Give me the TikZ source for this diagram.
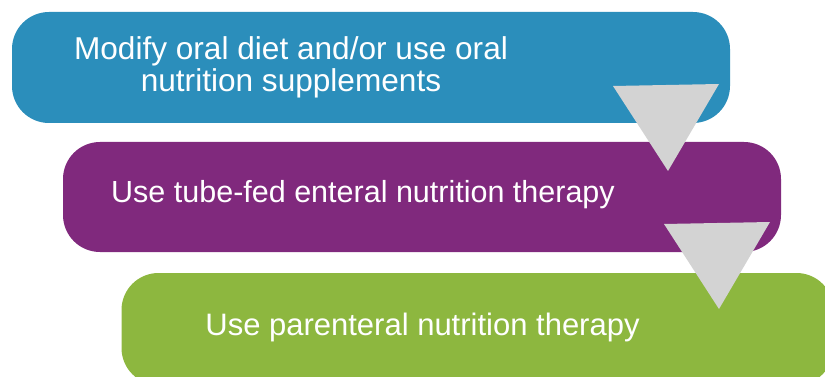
\documentclass[tikz,border=0pt]{standalone}
\usepackage{fontspec}
\setmainfont{Liberation Sans}
\definecolor{boxblue}{RGB}{43,142,187}
\definecolor{boxpurple}{RGB}{128,41,125}
\definecolor{boxgreen}{RGB}{141,183,63}
\definecolor{arrowgray}{RGB}{211,211,211}
\tikzset{
  stagebox/.style={rectangle, rounded corners=37pt, inner sep=0pt, draw=none},
  stagetext/.style={text=white, font=\fontsize{31}{33}\selectfont, inner sep=0pt, anchor=base},
  downarrow/.style={fill=arrowgray, draw=none}
}
\begin{document}
\begin{tikzpicture}[x=1pt,y=-1pt]
\useasboundingbox (0,0) rectangle (825,377);
\clip (0,0) rectangle (825,377);
\node[stagebox, fill=boxblue, minimum width=718pt, minimum height=111pt] (b1) at (371,67.5) {};
\node[stagebox, fill=boxpurple, minimum width=718pt, minimum height=110pt] (b2) at (422,197) {};
\node[stagebox, fill=boxgreen, minimum width=712pt, minimum height=112pt] (b3) at (477.5,329) {};
\node[stagetext, font=\fontsize{31.6}{33}\selectfont] (t1a) at (291,60) {Modify oral diet and/or use oral};
\node[stagetext, font=\fontsize{31.6}{33}\selectfont] (t1b) at (291,92) {nutrition supplements};
\node[stagetext, font=\fontsize{30.5}{33}\selectfont] (t2) at (363,202) {Use tube-fed enteral nutrition therapy};
\node[stagetext] (t3) at (422.5,335) {Use parenteral nutrition therapy};
\coordinate (a1l) at (613,86);
\coordinate (a1r) at (719,84);
\coordinate (a1t) at (668,171);
\coordinate (a2l) at (664,224);
\coordinate (a2r) at (770,222);
\coordinate (a2t) at (719,309);
\fill[downarrow] (a1l) -- (a1r) -- (a1t) -- cycle;
\fill[downarrow] (a2l) -- (a2r) -- (a2t) -- cycle;
\end{tikzpicture}
\end{document}
